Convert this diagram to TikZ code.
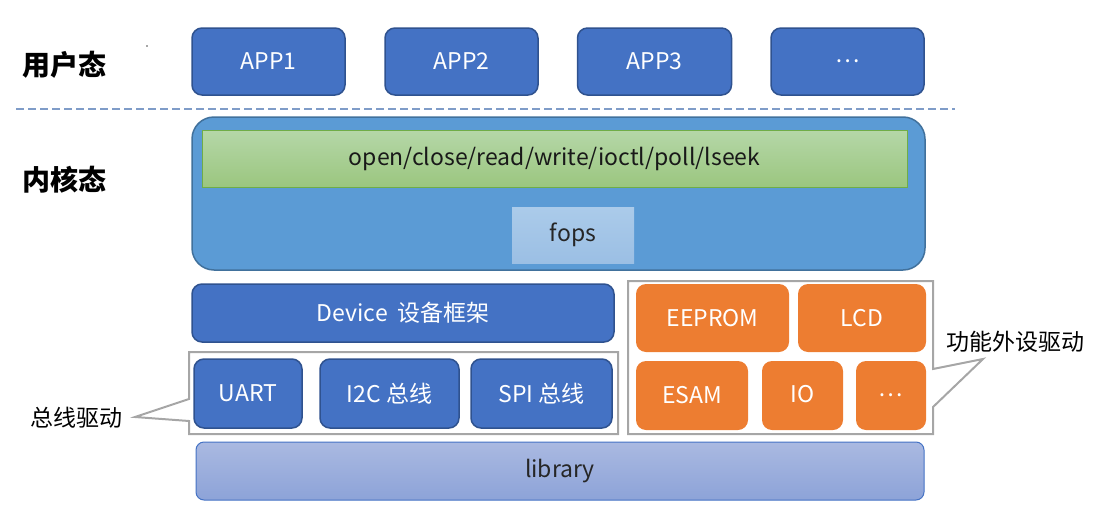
\documentclass[tikz,border=0pt]{standalone}
\usepackage{fontspec}
\setmainfont{Noto Sans CJK SC}
\definecolor{appblue}{HTML}{4472C4}
\definecolor{appedge}{HTML}{2F528F}
\definecolor{kernfill}{HTML}{5B9BD5}
\definecolor{kernedge}{HTML}{41719C}
\definecolor{greentop}{HTML}{B5D7A8}
\definecolor{greenbot}{HTML}{9BC67F}
\definecolor{greenedge}{HTML}{70AD47}
\definecolor{fopstop}{HTML}{ABCBEA}
\definecolor{fopsbot}{HTML}{9BBFE4}
\definecolor{libtop}{HTML}{AAB9E1}
\definecolor{libbot}{HTML}{8DA3D8}
\definecolor{orangefill}{HTML}{ED7D31}
\definecolor{calloutgray}{HTML}{A6A6A6}
\definecolor{dashblue}{HTML}{7F9CC8}
\begin{document}
\begin{tikzpicture}[x=0.5pt,y=-0.5pt,
  boxtext/.style={font=\fontsize{11.5}{13}\selectfont},
  lbl/.style={font=\fontsize{14}{16}\selectfont\bfseries, text=black},
  appbox/.style={boxtext, draw=appedge, line width=0.75pt, fill=appblue, rounded corners=5pt, text=white, inner sep=0pt},
  kernbox/.style={draw=kernedge, line width=0.75pt, fill=kernfill, rounded corners=11pt, inner sep=0pt},
  greenbar/.style={boxtext, draw=greenedge, line width=0.5pt, top color=greentop, bottom color=greenbot, text=black!90, inner sep=0pt},
  fopsbox/.style={boxtext, draw=none, top color=fopstop, bottom color=fopsbot, text=black!85, inner sep=0pt},
  orangebox/.style={boxtext, fill=orangefill, draw=none, rounded corners=5pt, text=white, inner sep=0pt},
  libbox/.style={boxtext, draw=appblue, line width=0.5pt, top color=libtop, bottom color=libbot, rounded corners=4pt, text=black!85, inner sep=0pt},
  callout/.style={draw=calloutgray, line width=1pt, line join=miter},
  calltext/.style={font=\fontsize{11.5}{13}\selectfont, text=black},
  dashline/.style={draw=dashblue, line width=0.6pt, dash pattern=on 4pt off 2pt}
]
\useasboundingbox (0,0) rectangle (1108,530);

% level labels
\node[lbl] (user) at (65,65) {用户态};
\node[lbl] (kern) at (65,180) {内核态};
\fill[black!70] (147,46) circle[radius=0.45pt];

% user space apps
\node[appbox, minimum width=76.5pt, minimum height=33.5pt] (app1) at (268.5,61.5) {APP1};
\node[appbox, minimum width=76.5pt, minimum height=33.5pt] (app2) at (461.5,61.5) {APP2};
\node[appbox, minimum width=77pt, minimum height=33.5pt] (app3) at (654.5,61.5) {APP3};
\node[appbox, minimum width=76.5pt, minimum height=33.5pt] (appn) at (847.5,61.5) {…};

% separator
\coordinate (sepl) at (16,109);
\coordinate (sepr) at (955,109);
\draw[dashline] (sepl) -- (sepr);

% kernel block
\node[kernbox, minimum width=366.5pt, minimum height=76.5pt] (kernel) at (558.5,193.5) {};
\node[greenbar, minimum width=352.5pt, minimum height=28.5pt] (sys) at (554.5,158.5) {open/close/read/write/ioctl/poll/lseek};
\node[fopsbox, minimum width=61pt, minimum height=28pt] (fops) at (573,235) {fops};

% device framework
\node[appbox, minimum width=211pt, minimum height=29pt] (dev) at (403,313) {Device\hspace{0.4em}设备框架};

% bus drivers
\draw[callout] (189,352) -- (618,352) -- (618,434) -- (189,434) -- (189,421) -- (135,417) -- (189,399) -- cycle;
\node[calltext] (busl) at (77,418) {总线驱动};
\node[appbox, minimum width=54pt, minimum height=34.5pt] (uart) at (248,393.5) {UART};
\node[appbox, minimum width=69.5pt, minimum height=34.5pt] (i2c) at (389.5,393.5) {I2C 总线};
\node[appbox, minimum width=70.5pt, minimum height=34.5pt] (spi) at (541.5,393.5) {SPI 总线};

% peripheral drivers
\draw[callout] (628,281) -- (933,281) -- (933,369) -- (983,359) -- (933,407) -- (933,434) -- (628,434) -- cycle;
\node[calltext] (perl) at (1015,342) {功能外设驱动};
\node[orangebox, minimum width=76.5pt, minimum height=34pt] (eeprom) at (712.5,318) {EEPROM};
\node[orangebox, minimum width=64pt, minimum height=34pt] (lcd) at (862,318) {LCD};
\node[orangebox, minimum width=56pt, minimum height=34.5pt] (esam) at (692,395.5) {ESAM};
\node[orangebox, minimum width=40.5pt, minimum height=34.5pt] (io) at (802.5,395.5) {\raisebox{1.5pt}{IO}};
\node[orangebox, minimum width=35pt, minimum height=34.5pt] (pmore) at (891,395.5) {…};

% library
\node[libbox, minimum width=364pt, minimum height=29pt] (lib) at (560,471) {library};
\end{tikzpicture}
\end{document}
